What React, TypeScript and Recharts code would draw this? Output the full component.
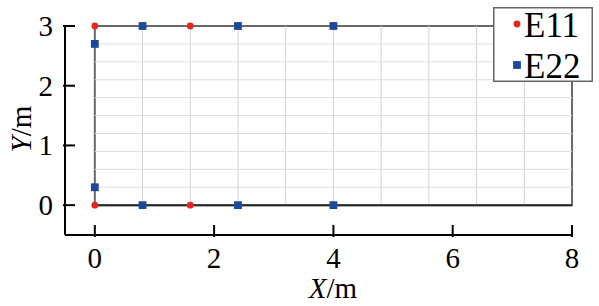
import React from 'react';
import { ScatterChart, Scatter, XAxis, YAxis, ReferenceLine, ReferenceArea, Legend } from 'recharts';

const e11X = [0, 1.6, 0, 1.6];
const e11Y = [3, 3, 0, 0];
const e22X = [0.8, 2.4, 4, 0, 0, 0.8, 2.4, 4];
const e22Y = [3, 3, 3, 2.7, 0.3, 0, 0, 0];
const xTicks = [0, 2, 4, 6, 8];
const yTicks = [0, 1, 2, 3];
const gridX = [0.8, 1.6, 2.4, 3.2, 4, 4.8, 5.6, 6.4, 7.2];
const gridY = [0.3, 0.6, 0.9, 1.2, 1.5, 1.8, 2.1, 2.4, 2.7];
const rectX = [0, 8];
const rectY = [0, 3];

const e11 = e11X.map((x, i) => ({ x, y: e11Y[i] }));
const e22 = e22X.map((x, i) => ({ x, y: e22Y[i] }));

const RED = '#e8261f';
const BLUE = '#1b4a9c';
const FONT = 'Liberation Serif';

const XTick = (props: any) => {
  const { x, y, payload } = props;
  return (
    <g>
      <line x1={x} y1={y} x2={x} y2={y - 12} stroke="#000" strokeWidth={2} />
      <text x={x} y={y + 31} textAnchor="middle" fontFamily={FONT} fontSize={29} fill="#000">
        {payload.value}
      </text>
    </g>
  );
};

const YTick = (props: any) => {
  const { x, y, payload } = props;
  return (
    <g>
      <line x1={x} y1={y} x2={x + 12} y2={y} stroke="#000" strokeWidth={2} />
      <text x={x - 10} y={y + 10} textAnchor="end" fontFamily={FONT} fontSize={29} fill="#000">
        {payload.value}
      </text>
    </g>
  );
};

const Circle = (props: any) => <circle cx={props.cx} cy={props.cy} r={3.4} fill={RED} />;
const Square = (props: any) => (
  <rect x={props.cx - 3.9} y={props.cy - 3.9} width={7.8} height={7.8} fill={BLUE} />
);

const LegendBox = (props: any) => {
  const payload = props.payload || [];
  return (
    <svg width={100} height={88} style={{ display: 'block', overflow: 'visible' }}>
      <rect x={0.75} y={0.75} width={98.5} height={73.5} fill="#fff" stroke="#666" strokeWidth={1.5} />
      {payload.map((p: any, i: number) => {
        const cy = 17 + i * 41;
        return (
          <g key={i}>
            {i === 0 ? (
              <circle cx={24} cy={cy} r={3.4} fill={RED} />
            ) : (
              <rect x={20.1} y={cy - 3.9} width={7.8} height={7.8} fill={BLUE} />
            )}
            <text x={31} y={cy + 13} fontFamily={FONT} fontSize={35} fill="#000">
              {p.value}
            </text>
          </g>
        );
      })}
    </svg>
  );
};

export default function App() {
  return (
    <div style={{ position: 'absolute', left: 0, top: 0, width: 599, height: 306, background: '#fff' }}>
      <ScatterChart width={599} height={306} margin={{ top: 26, right: 27, bottom: 41, left: 25 }}>
        <XAxis
          type="number"
          dataKey="x"
          domain={[-0.5, 8]}
          ticks={xTicks}
          height={30}
          tickSize={0}
          tickLine={false}
          tick={<XTick />}
          axisLine={{ stroke: '#000', strokeWidth: 2 }}
        />
        <YAxis
          type="number"
          dataKey="y"
          domain={[-0.5, 3]}
          ticks={yTicks}
          width={40}
          tickSize={0}
          tickLine={false}
          tick={<YTick />}
          axisLine={{ stroke: '#000', strokeWidth: 2 }}
        />
        {gridX.map((v) => (
          <ReferenceLine
            key={'gx' + v}
            segment={[{ x: v, y: rectY[0] }, { x: v, y: rectY[1] }]}
            stroke="#d2d2d2"
            strokeWidth={1}
          />
        ))}
        {gridY.map((v) => (
          <ReferenceLine
            key={'gy' + v}
            segment={[{ x: rectX[0], y: v }, { x: rectX[1], y: v }]}
            stroke="#dedede"
            strokeWidth={1}
          />
        ))}
        <ReferenceArea
          x1={rectX[0]}
          x2={rectX[1]}
          y1={rectY[0]}
          y2={rectY[1]}
          fill="none"
          fillOpacity={0}
          stroke="#6a6a6a"
          strokeWidth={2}
        />
        <ReferenceLine
          segment={[{ x: rectX[0], y: rectY[0] }, { x: rectX[1], y: rectY[0] }]}
          stroke="#2a2a2a"
          strokeWidth={2}
        />
        <Scatter name="E11" data={e11} fill={RED} shape={<Circle />} isAnimationActive={false} />
        <Scatter name="E22" data={e22} fill={BLUE} shape={<Square />} isAnimationActive={false} />
        <Legend
          layout="vertical"
          align="center"
          verticalAlign="middle"
          content={<LegendBox />}
          wrapperStyle={{ position: 'absolute', left: 493, top: 7, width: 100, height: 88 }}
        />
      </ScatterChart>
      <svg
        width={599}
        height={306}
        style={{ position: 'absolute', left: 0, top: 0, pointerEvents: 'none' }}
      >
        <text x={333} y={298} textAnchor="middle" fontFamily={FONT} fontSize={29} fill="#000">
          <tspan fontStyle="italic">X</tspan>/m
        </text>
        <text
          transform="translate(31 129) rotate(-90)"
          textAnchor="middle"
          fontFamily={FONT}
          fontSize={29}
          fill="#000"
        >
          <tspan fontStyle="italic">Y</tspan>/m
        </text>
      </svg>
    </div>
  );
}
